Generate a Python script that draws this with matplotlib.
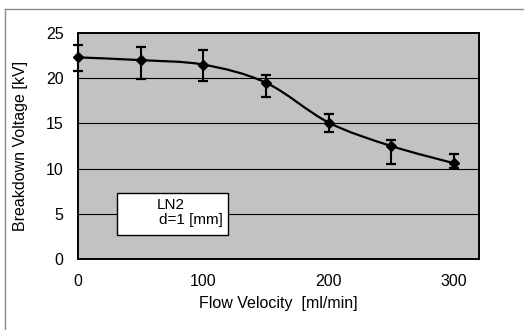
import matplotlib
matplotlib.use("Agg")
import matplotlib.pyplot as plt
import numpy as np
from matplotlib.path import Path
from matplotlib.patches import PathPatch, Rectangle
from matplotlib.lines import Line2D

plt.rcParams["font.family"] = ["Liberation Sans", "DejaVu Sans"]

# --- data -----------------------------------------------------------------
velocity = [0, 50, 100, 150, 200, 250, 300]          # ml/min
voltage = [22.3, 22.0, 21.5, 19.5, 15.1, 12.5, 10.6]  # kV
err_up = [1.4, 1.5, 1.6, 0.9, 0.9, 0.7, 1.0]
err_low = [1.5, 2.1, 1.8, 1.6, 1.1, 2.0, 0.5]
x_ticks = [0, 100, 200, 300]
y_ticks = [0, 5, 10, 15, 20, 25]


def smooth_path(xs, ys):
    """Excel-style smoothed line: Catmull-Rom segments as cubic Beziers."""
    pts = np.column_stack([xs, ys]).astype(float)
    n = len(pts)
    verts = [pts[0]]
    codes = [Path.MOVETO]
    for i in range(n - 1):
        p0 = pts[i - 1] if i > 0 else pts[i]
        p1, p2 = pts[i], pts[i + 1]
        p3 = pts[i + 2] if i + 2 < n else pts[i + 1]
        c1 = p1 + (p2 - p0) / 6.0
        c2 = p2 - (p3 - p1) / 6.0
        verts += [c1, c2, p2]
        codes += [Path.CURVE4] * 3
    return Path(verts, codes)


fig = plt.figure(figsize=(5.24, 3.30), dpi=100)
ax = fig.add_axes([0.149, 0.215, 0.765, 0.685])
ax.set_facecolor("#c2c2c2")

for y in y_ticks[1:-1]:
    ax.axhline(y, color="black", linewidth=0.8, zorder=1)

ax.add_patch(PathPatch(smooth_path(velocity, voltage), facecolor="none",
                       edgecolor="black", linewidth=1.6, zorder=3))
ax.errorbar(velocity, voltage, yerr=[err_low, err_up], fmt="D",
            color="black", markersize=5, elinewidth=1.5, capsize=3.5,
            capthick=1.6, zorder=4, clip_on=False)

ax.set_xlim(0, 320)
ax.set_ylim(0, 25)
ax.set_xticks(x_ticks)
ax.set_yticks(y_ticks)
ax.tick_params(length=0, labelsize=11.5, pad=10.5)
for side in ax.spines.values():
    side.set_linewidth(1.4)
    side.set_color("black")

ax.set_xlabel("Flow Velocity  [ml/min]", fontsize=11.5)
ax.set_ylabel("Breakdown Voltage [kV]", fontsize=11.5)
ax.xaxis.set_label_coords(0.5, -0.165)
ax.yaxis.set_label_coords(-0.125, 0.5)

# legend-like annotation box
ax.add_patch(Rectangle((0.097, 0.106), 0.277, 0.186, transform=ax.transAxes,
                       facecolor="white", edgecolor="black", linewidth=1.0,
                       zorder=5))
ax.text(0.197, 0.239, "LN2", transform=ax.transAxes, fontsize=11,
        va="center", ha="left", zorder=6)
ax.text(0.202, 0.173, "d=1 [mm]", transform=ax.transAxes, fontsize=11,
        va="center", ha="left", zorder=6)

# outer frame (partly visible in the scan)
fig.add_artist(Line2D([5 / 524, 1.0], [1 - 9 / 330, 1 - 9 / 330],
                      color="#8a8a8a", linewidth=1.0))
fig.add_artist(Line2D([5 / 524, 5 / 524], [0.0, 1 - 9 / 330],
                      color="#8a8a8a", linewidth=1.0))

fig.savefig("out.png", dpi=100)
